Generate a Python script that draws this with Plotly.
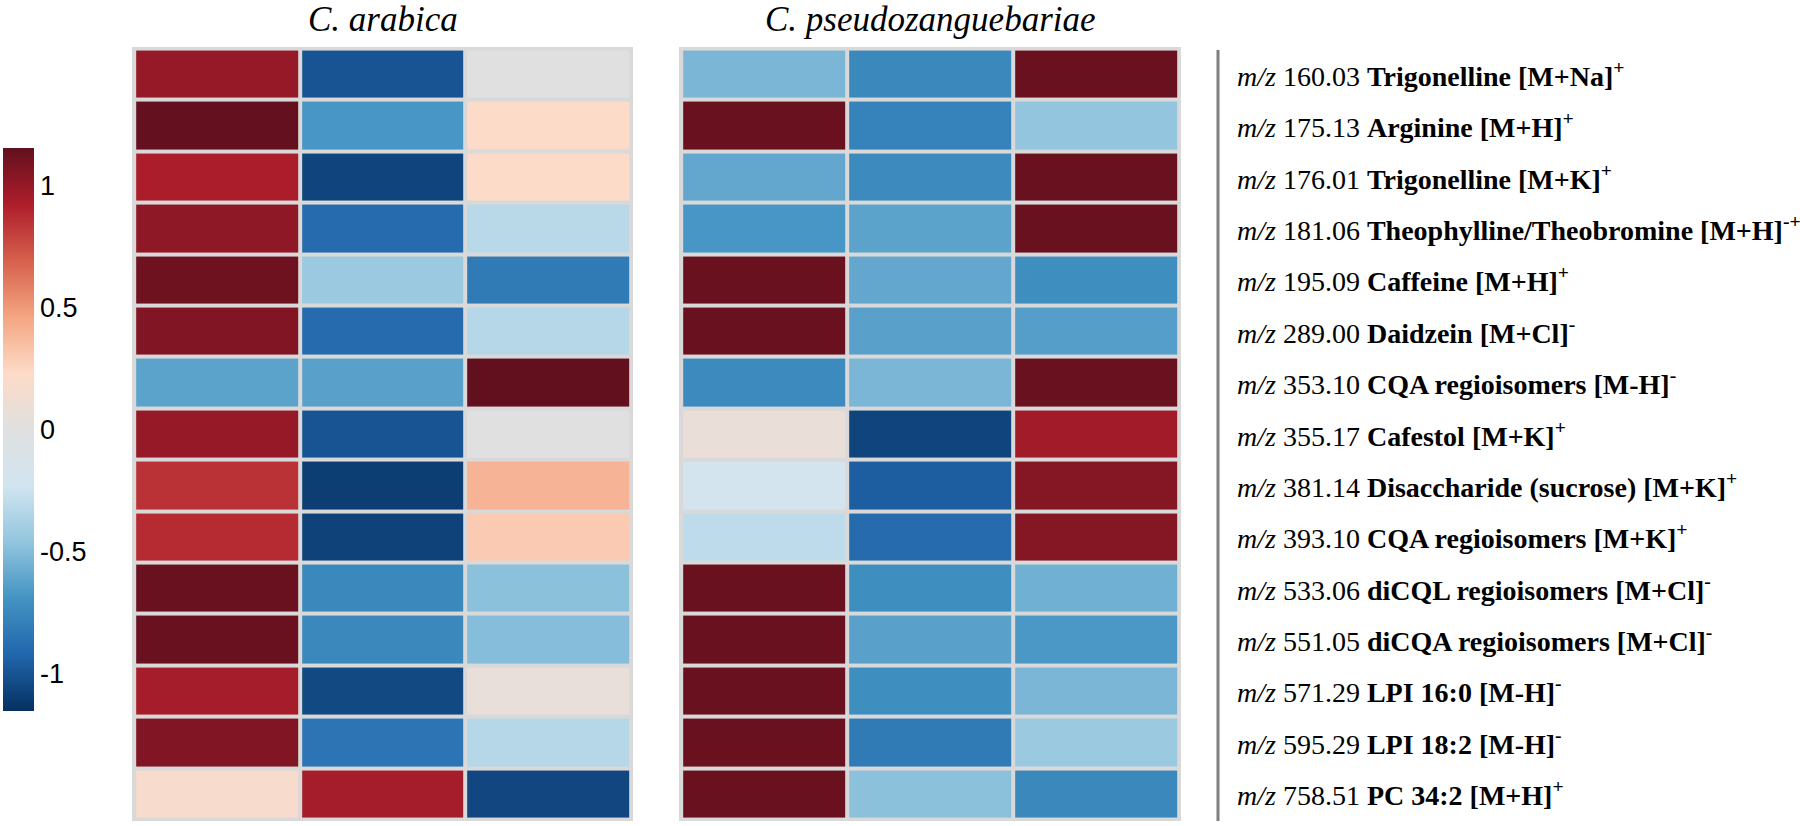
import plotly.graph_objects as go

# ---------------- data ----------------
mz = ["160.03", "175.13", "176.01", "181.06", "195.09", "289.00", "353.10", "355.17",
      "381.14", "393.10", "533.06", "551.05", "571.29", "595.29", "758.51"]
names = ["Trigonelline [M+Na]", "Arginine [M+H]", "Trigonelline [M+K]",
         "Theophylline/Theobromine [M+H]", "Caffeine [M+H]", "Daidzein [M+Cl]",
         "CQA regioisomers [M-H]", "Cafestol [M+K]", "Disaccharide (sucrose) [M+K]",
         "CQA regioisomers [M+K]", "diCQL regioisomers [M+Cl]", "diCQA regioisomers [M+Cl]",
         "LPI 16:0 [M-H]", "LPI 18:2 [M-H]", "PC 34:2 [M+H]"]
charges = ["+", "+", "+", "-+", "+", "-", "-", "+", "+", "+", "-", "-", "-", "-", "+"]

species = ["C. arabica", "C. pseudozanguebariae"]
samples = [0, 1, 2]

arabica = [
    [1.00, -1.00, 0.00],
    [1.15, -0.68, 0.22],
    [0.93, -1.07, 0.22],
    [1.02, -0.90, -0.32],
    [1.12, -0.43, -0.82],
    [1.06, -0.90, -0.33],
    [-0.62, -0.63, 1.155],
    [1.00, -1.00, 0.00],
    [0.85, -1.10, 0.40],
    [0.88, -1.08, 0.30],
    [1.13, -0.75, -0.48],
    [1.13, -0.75, -0.50],
    [0.95, -1.05, 0.06],
    [1.06, -0.85, -0.33],
    [0.18, 0.95, -1.06],
]
pseudo = [
    [-0.53, -0.75, 1.13],
    [1.13, -0.78, -0.46],
    [-0.60, -0.74, 1.13],
    [-0.68, -0.62, 1.13],
    [1.13, -0.60, -0.72],
    [1.13, -0.63, -0.64],
    [-0.74, -0.53, 1.13],
    [0.07, -1.07, 0.96],
    [-0.20, -0.96, 1.05],
    [-0.30, -0.90, 1.05],
    [1.13, -0.72, -0.56],
    [1.13, -0.63, -0.67],
    [1.13, -0.72, -0.53],
    [1.13, -0.82, -0.43],
    [1.13, -0.48, -0.75],
]
cb_ticks = [-1, -0.5, 0, 0.5, 1]
cb_text = ["-1", "-0.5", "0", "0.5", "1"]

# ---------------- layout helpers ----------------
W, H = 1800, 826
def fx(px): return px / W
def fy(py): return 1 - py / H

rows = list(range(len(mz)))
colorscale = [
    [0.0, "#053061"], [0.1, "#2166AC"], [0.2, "#4393C3"], [0.3, "#92C5DE"],
    [0.4, "#D1E5F0"], [0.5, "#E0E0E0"], [0.6, "#FDDBC7"], [0.7, "#F4A582"],
    [0.8, "#D6604D"], [0.9, "#AE1D2B"], [1.0, "#62101E"],
]

fig = go.Figure()
fig.add_trace(go.Heatmap(z=arabica, x=samples, y=rows, coloraxis="coloraxis",
                         xgap=4, ygap=4, xaxis="x", yaxis="y", hoverongaps=False))
fig.add_trace(go.Heatmap(z=pseudo, x=samples, y=rows, coloraxis="coloraxis",
                         xgap=4, ygap=4, xaxis="x2", yaxis="y2", hoverongaps=False))

padx = 0.013
pady = 0.03
ax_common = dict(showticklabels=False, showgrid=False, zeroline=False, ticks="",
                 showline=False)
fig.update_layout(
    width=W, height=H,
    margin=dict(l=0, r=0, t=0, b=0),
    paper_bgcolor="white",
    plot_bgcolor="#D9D9D9",
    xaxis=dict(domain=[fx(132), fx(633)], range=[-0.5 - padx, 2.5 + padx], **ax_common),
    xaxis2=dict(domain=[fx(679), fx(1181)], range=[-0.5 - padx, 2.5 + padx], **ax_common),
    yaxis=dict(domain=[fy(821), fy(47)], range=[14.5 + pady, -0.5 - pady], anchor="x", **ax_common),
    yaxis2=dict(domain=[fy(821), fy(47)], range=[14.5 + pady, -0.5 - pady], anchor="x2", **ax_common),
    coloraxis=dict(
        colorscale=colorscale, cmin=-1.155, cmax=1.155,
        colorbar=dict(
            x=fx(3), xanchor="left", y=fy(429.5), yanchor="middle",
            thickness=31, thicknessmode="pixels",
            len=563, lenmode="pixels",
            outlinewidth=0, xpad=0, ypad=0,
            tickvals=cb_ticks, ticktext=cb_text, ticks="",
            tickfont=dict(family="Liberation Sans", size=27, color="black"),
        ),
    ),
    showlegend=False,
)

# titles
title_x = [(132 + 633) / 2, (679 + 1181) / 2]
for sp, tx in zip(species, title_x):
    fig.add_annotation(text=f"<i>{sp}</i>", x=fx(tx), y=fy(19), xref="paper", yref="paper",
                       xanchor="center", yanchor="middle", showarrow=False,
                       font=dict(family="Liberation Serif", size=35, color="black"))

# separator line
fig.add_shape(type="line", xref="paper", yref="paper", x0=fx(1218), x1=fx(1218),
              y0=fy(50), y1=fy(821), line=dict(color="#7F7F7F", width=3))

# row labels
for i, (m, n, c) in enumerate(zip(mz, names, charges)):
    txt = f"<i>m/z</i> {m} <b>{n}<sup>{c}</sup></b>"
    fig.add_annotation(text=txt, x=fx(1235), y=i, xref="paper", yref="y2",
                       xanchor="left", yanchor="middle", showarrow=False,
                       font=dict(family="Liberation Serif", size=28, color="black"))

fig.write_html(
    "out.html",
    config={"displayModeBar": False},
    post_script="document.body.style.margin='0';document.body.style.overflow='hidden';",
)
